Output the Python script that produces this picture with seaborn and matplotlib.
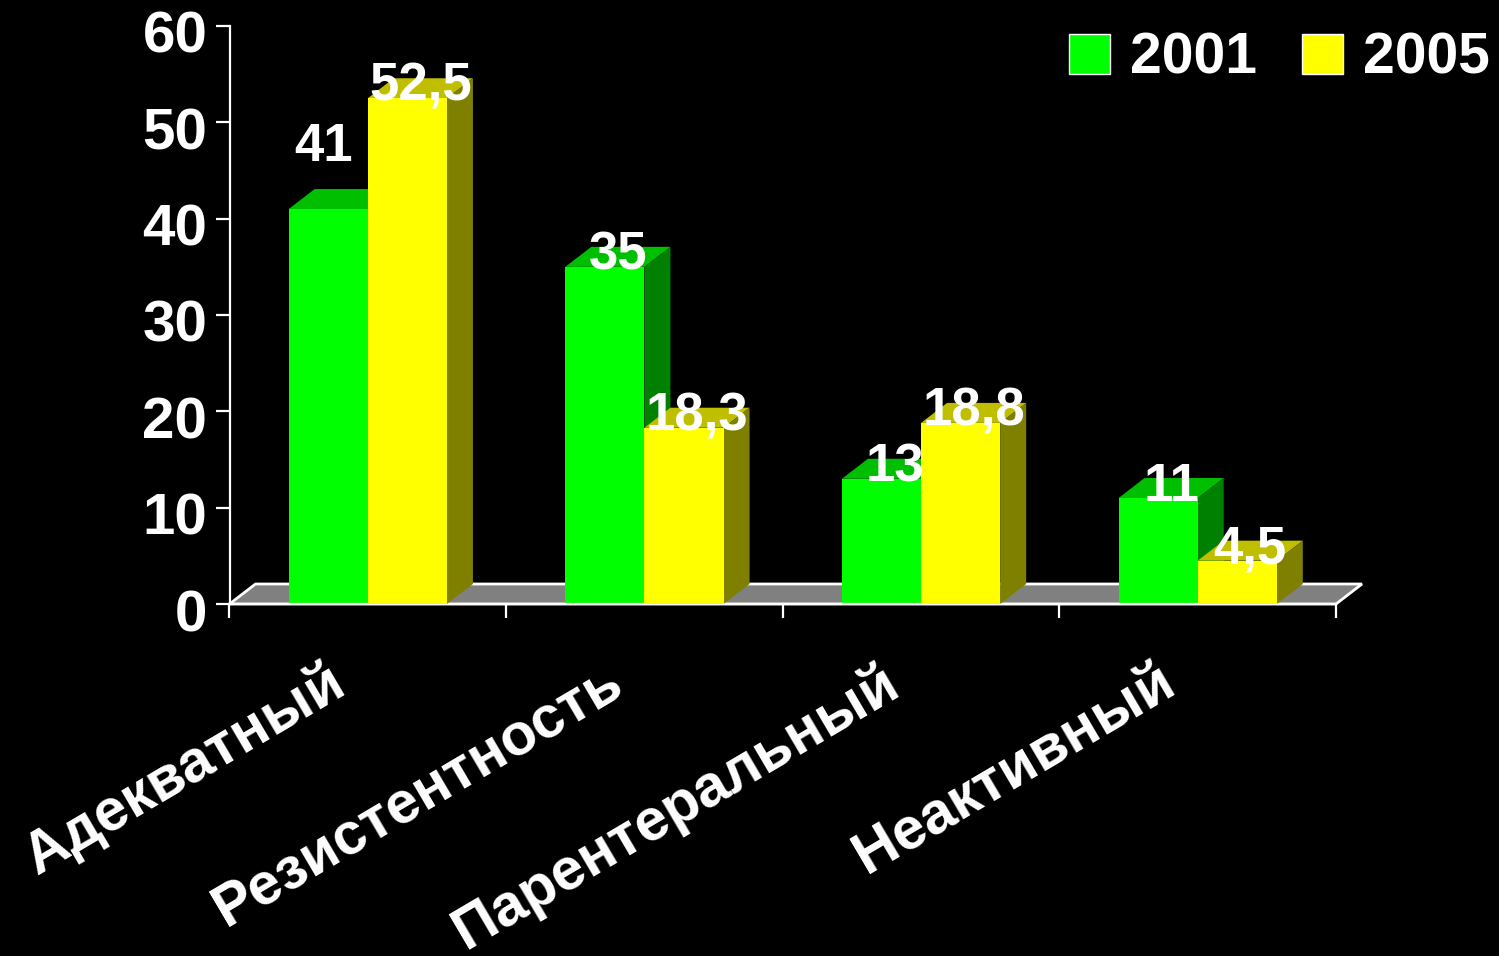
import pandas as pd
import matplotlib
matplotlib.use('Agg')
import matplotlib.pyplot as plt
import seaborn as sns
from matplotlib.patches import Polygon
from matplotlib.transforms import ScaledTranslation

# Datos
categorias = ['Адекватный', 'Резистентность', 'Парентеральный', 'Неактивный']
valores_2001 = [41, 35, 13, 11]
valores_2005 = [52.5, 18.3, 18.8, 4.5]
ticks_y = [0, 10, 20, 30, 40, 50, 60]

df = pd.DataFrame({
    'cat': categorias * 2,
    'anio': ['2001'] * 4 + ['2005'] * 4,
    'valor': valores_2001 + valores_2005,
})

sns.set_style('dark', {'figure.facecolor': 'black', 'axes.facecolor': 'black'})
plt.rcParams['font.family'] = ['Liberation Sans', 'DejaVu Sans']

W, H = 1499, 956
fig = plt.figure(figsize=(W / 100, H / 100), dpi=100, facecolor='black')
ax = fig.add_axes([229.5 / W, (H - 604) / H, (1336 - 229.5) / W, (604 - 26) / H])

colores = {'2001': '#00FF00', '2005': '#FFFF00'}
sns.barplot(data=df, x='cat', y='valor', hue='anio', hue_order=['2001', '2005'],
            palette=colores, saturation=1, width=0.572, gap=0, ax=ax, zorder=3)

ax.set_xlim(-0.5, 3.5)
ax.set_ylim(0, 60)
ax.set_xlabel('')
ax.set_ylabel('')
ax.grid(False)

# Profundidad del efecto 3D
dx = 26 / 276.6
dy = 20 / 9.633

# Suelo gris
ax.add_patch(Polygon([(-0.5, 0), (-0.5 + dx, dy), (3.5 + dx, dy), (3.5, 0)], closed=True,
                     facecolor='#808080', edgecolor='white', linewidth=2,
                     clip_on=False, zorder=1))

# Caras superior y lateral de cada barra
tonos = [('#00BF00', '#008000'), ('#BFBF00', '#808000')]
for i, cont in enumerate(ax.containers):
    for bar in cont:
        x0, w, h = bar.get_x(), bar.get_width(), bar.get_height()
        x1 = x0 + w
        z = 2 + i * 2
        ax.add_patch(Polygon([(x0, h), (x0 + dx, h + dy), (x1 + dx, h + dy), (x1, h)],
                             facecolor=tonos[i][0], edgecolor='none', clip_on=False, zorder=z))
        ax.add_patch(Polygon([(x1, 0), (x1 + dx, dy), (x1 + dx, h + dy), (x1, h)],
                             facecolor=tonos[i][1], edgecolor='none', clip_on=False, zorder=z))
        bar.set_zorder(z + 0.5)
        bar.set_edgecolor('none')

# Etiquetas de valores
for cont, vals in zip(ax.containers, [valores_2001, valores_2005]):
    for bar, v in zip(cont, vals):
        offs = (-5, 68) if v == 41 else (13, 17)
        ax.annotate(str(v).replace('.', ','),
                    (bar.get_x() + bar.get_width() / 2, bar.get_height()),
                    xytext=(offs[0] * 0.72, offs[1] * 0.72), textcoords='offset points',
                    ha='center', va='center_baseline', color='white', fontsize=38,
                    fontweight='bold', zorder=10, annotation_clip=False)

# Ejes
for lado in ['top', 'right']:
    ax.spines[lado].set_visible(False)
for lado in ['left', 'bottom']:
    ax.spines[lado].set_color('white')
    ax.spines[lado].set_linewidth(1.6)
    ax.spines[lado].set_zorder(2.5)

ax.set_yticks(ticks_y)
ax.set_yticklabels([str(t) for t in ticks_y], fontsize=42, fontweight='bold', color='white')
ax.tick_params(axis='y', colors='white', length=10, width=1.6, pad=6, left=True)
baja = ScaledTranslation(0, -6 / 100, fig.dpi_scale_trans)
for lab in ax.get_yticklabels():
    lab.set_transform(lab.get_transform() + baja)

ax.set_xticks([-0.5, 0.5, 1.5, 2.5, 3.5])
ax.set_xticklabels([])
ax.tick_params(axis='x', which='major', colors='white', length=10, width=1.6, bottom=True)
ax.set_xticks([0, 1, 2, 3], minor=True)
ax.set_xticklabels(categorias, minor=True, fontsize=42.5, fontweight='bold', color='white',
                   rotation=30.5, ha='right', rotation_mode='anchor')
ax.tick_params(axis='x', which='minor', length=0, pad=36)
corr = ScaledTranslation(-41 / 100, 0, fig.dpi_scale_trans)
for lab in ax.get_xticklabels(minor=True):
    lab.set_transform(lab.get_transform() + corr)

# Leyenda
handles, labels = ax.get_legend_handles_labels()
leg = ax.legend(handles, labels, ncol=2, frameon=False, loc='upper left',
                bbox_to_anchor=(1069 / W, 1 - 32 / H), bbox_transform=fig.transFigure,
                fontsize=41, handlelength=0.72, handleheight=0.72, handletextpad=0.35,
                columnspacing=0.79, borderpad=0, borderaxespad=0)
for t in leg.get_texts():
    t.set_color('white')
    t.set_fontweight('bold')

fig.savefig('out.png', dpi=100, facecolor='black')
